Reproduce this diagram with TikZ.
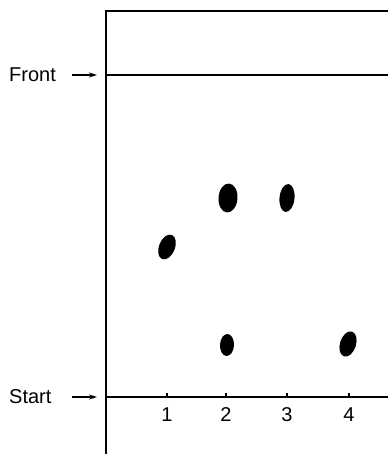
\documentclass[tikz,border=0pt]{standalone}
\usepackage{fontspec}
\setmainfont{Liberation Sans}
\usetikzlibrary{shapes.geometric,arrows.meta}
\begin{document}
\begin{tikzpicture}[x=1pt,y=1pt,
  plate/.style={line width=1.4pt},
  lbl/.style={font=\fontsize{20}{22}\selectfont, inner sep=0pt},
  num/.style={font=\fontsize{20}{22}\selectfont, inner sep=0pt},
  ptr/.style={line width=1.2pt,-{Stealth[length=8pt,width=5pt]}},
  spot/.style={ellipse, fill=black, draw=none, inner sep=0pt}]
\useasboundingbox (0,0) rectangle (388,454);
% plate
\draw[plate] (106,0) -- (106,443) -- (388,443);
\draw[plate] (106,379) -- (388,379);
\draw[plate] (106,57) -- (388,57);
% ticks
\foreach \x in {167,226,287,349} \draw[plate] (\x,57) -- (\x,61);
% labels
\node[lbl, anchor=west] (front) at (9,379) {Front};
\node[lbl, anchor=west] (start) at (9,57) {Start};
\coordinate (fa) at (72,379); \coordinate (fb) at (97,379);
\coordinate (sa) at (72,57); \coordinate (sb) at (97,57);
\draw[ptr] (fa) -- (fb);
\draw[ptr] (sa) -- (sb);
\node[num] (n1) at (167,39) {1};
\node[num] (n2) at (226,39) {2};
\node[num] (n3) at (287,39) {3};
\node[num] (n4) at (349,39) {4};
% spots
\node[spot, minimum width=16pt, minimum height=26pt, rotate=-22] (s1) at (167,207) {};
\node[spot, minimum width=19pt, minimum height=29pt, rotate=-4] (s2) at (228,256) {};
\node[spot, minimum width=15pt, minimum height=28pt, rotate=-6] (s3) at (287,256) {};
\node[spot, minimum width=14pt, minimum height=22pt, rotate=-3] (s4) at (227,109) {};
\node[spot, minimum width=16pt, minimum height=26pt, rotate=-18] (s5) at (348,110) {};
\end{tikzpicture}
\end{document}
